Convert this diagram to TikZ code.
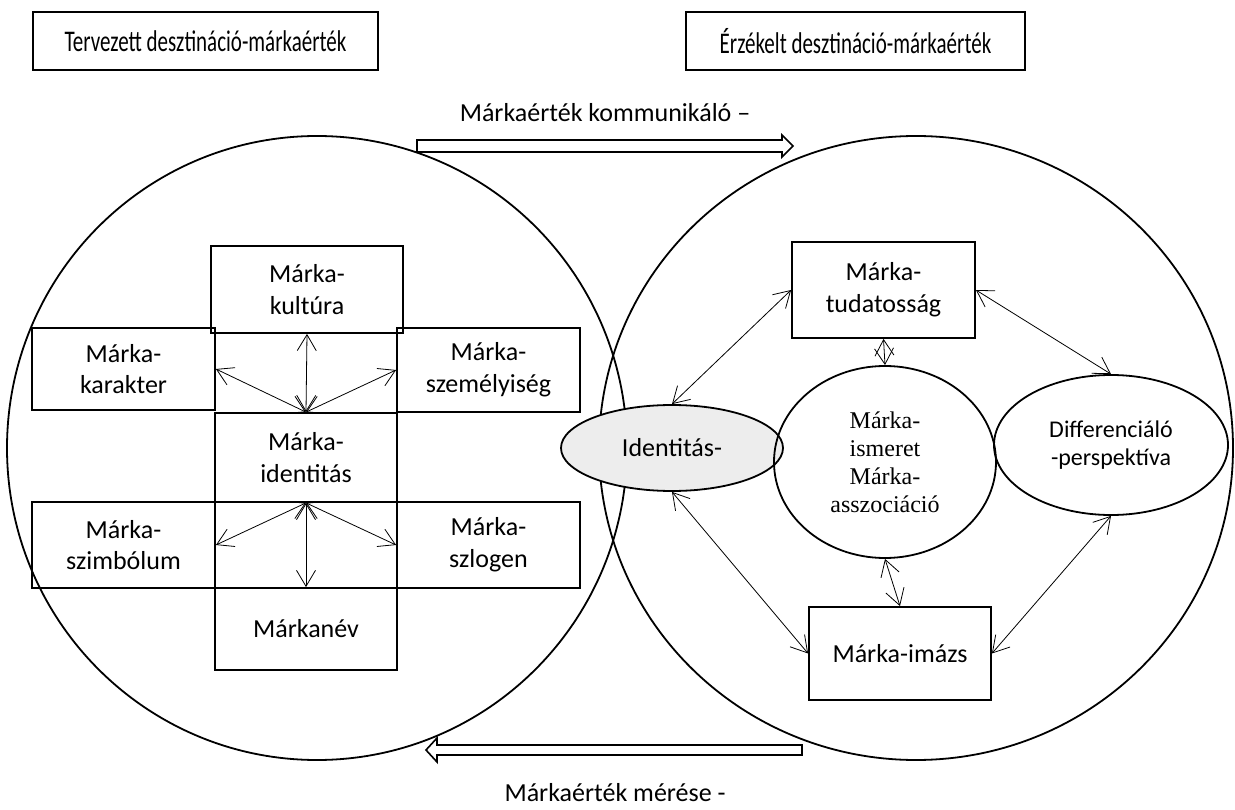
\documentclass[tikz,border=0pt]{standalone}
\usepackage{fontspec}
\setmainfont{Carlito}
\newfontfamily\timesf{Liberation Serif}
\newfontfamily\titlef{Carlito}[FakeStretch=0.7]
\usetikzlibrary{arrows.meta,shapes.geometric}
\newcommand\lbl{\fontsize{26}{31.7}\selectfont}
\newcommand\lblsm{\fontsize{24}{28}\selectfont}
\newcommand\lbltitle{\titlef\fontsize{30}{34}\selectfont}
\begin{document}
\begin{tikzpicture}[x=1pt,y=-1pt,
  box/.style={draw, line width=1.8pt, inner sep=0pt, align=center, font=\lbl},
  bigc/.style={draw, ellipse, line width=1.8pt, inner sep=0pt},
  ell/.style={draw, ellipse, line width=1.8pt, inner sep=0pt, align=center},
  arr/.style={line width=0.8pt, {Straight Barb[length=16pt,width=19pt]}-{Straight Barb[length=16pt,width=19pt]}},
  hollow/.style={draw, line width=1.6pt, fill=white, line join=miter},
  txt/.style={font=\lbl, inner sep=0pt}]
\useasboundingbox[fill=white] (0,0) rectangle (1235,810);

% big circles
\node[bigc, minimum width=620pt, minimum height=624pt] (lc) at (317,448) {};
\node[bigc, minimum width=634pt, minimum height=624pt] (rc) at (916,448) {};

% titles
\node[box, line width=1.5pt, minimum width=345pt, minimum height=58pt, font=\lbltitle] (t1) at (205.5,41) {Tervezett desztináció-márkaérték};
\node[box, line width=1.5pt, minimum width=339pt, minimum height=58pt, font=\lbltitle] (t2) at (855.5,41) {Érzékelt desztináció-márkaérték};

% hollow arrows
\node[txt] (comm) at (605,113) {Márkaérték kommunikáló –};
\node[txt] (meres) at (615,793) {Márkaérték mérése -};
\draw[hollow] (417,140) -- (782,140) -- (782,135) -- (793,146) -- (782,157) -- (782,152) -- (417,152) -- cycle;
\draw[hollow] (802,745) -- (437,745) -- (437,738) -- (426,750) -- (437,762) -- (437,755) -- (802,755) -- cycle;

% left boxes
\node[box, minimum width=192pt, minimum height=87pt] (kult) at (307,289.5) {Márka-\\kultúra};
\node[box, minimum width=183pt, minimum height=82pt] (kar) at (123.5,369) {Márka-\\karakter};
\node[box, minimum width=183pt, minimum height=84pt] (szem) at (488.5,370) {Márka-\\személyiség};
\node[box, minimum width=182pt, minimum height=89pt] (ident) at (306,457.5) {Márka-\\identitás};
\node[box, minimum width=183pt, minimum height=86pt] (szimb) at (123.5,545) {Márka-\\szimbólum};
\node[box, minimum width=183pt, minimum height=86pt] (szlog) at (488.5,545) {Márka-\\szlogen};
\node[box, minimum width=182pt, minimum height=82pt] (nev) at (306,629) {Márkanév};

\draw[arr] (ident.north) -- (kult.south);
\draw[arr] (ident.north) -- (kar.east);
\draw[arr] (ident.north) -- (szem.west);
\draw[arr] (ident.south) -- (szimb.east);
\draw[arr] (ident.south) -- (szlog.west);
\draw[arr] (ident.south) -- (nev.north);

% right side
\node[ell, fill=black!7, minimum width=222pt, minimum height=86pt, font=\lbl] (idE) at (672,448) {Identitás-};
\node[ell, minimum width=222pt, minimum height=192pt, font=\timesf\lblsm] (ism) at (885,462) {Márka-\\ismeret\\Márka-\\asszociáció};
\node[ell, minimum width=234pt, minimum height=140pt, font=\lblsm] (diff) at (1111,445) {Differenciáló\\-perspektíva};
\node[box, minimum width=183pt, minimum height=96pt] (tud) at (883.5,290) {Márka-\\tudatosság};
\node[box, minimum width=182pt, minimum height=93pt] (imazs) at (900,653.5) {Márka-imázs};

\draw[arr] (tud.west) -- (idE.north);
\draw[arr] (tud.east) -- (diff.north);
\draw[arr] (tud.south) -- (ism.north);
\draw[arr] (idE.south) -- (imazs.west);
\draw[arr] (ism.south) -- (imazs.north);
\draw[arr] (diff.south) -- (imazs.east);
\end{tikzpicture}
\end{document}
